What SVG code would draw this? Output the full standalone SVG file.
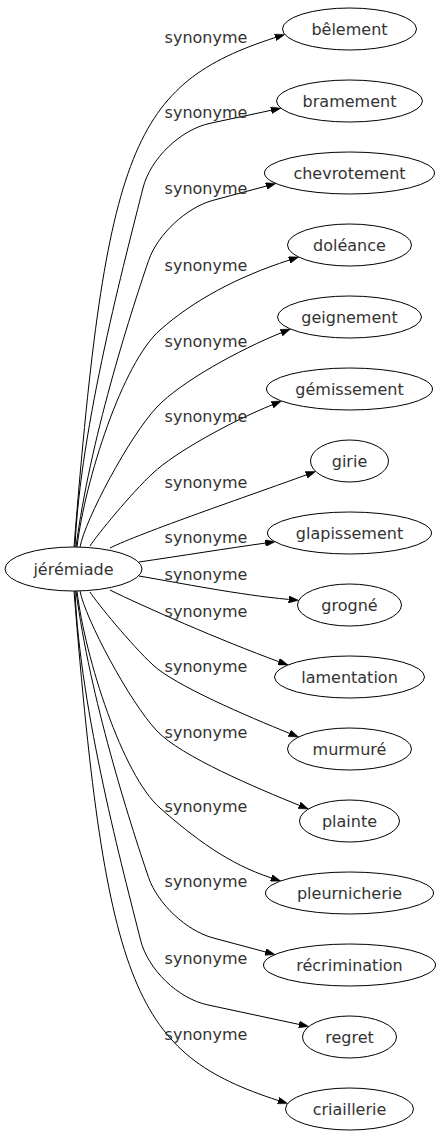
<svg xmlns="http://www.w3.org/2000/svg" width="440" height="1139" viewBox="0 0 440 1139">
<style>
  .node ellipse { fill: #ffffff; stroke: #000000; stroke-width: 1; }
  .node text { font-family: "DejaVu Sans", sans-serif; font-size: 16px; fill: #333333; text-anchor: middle; }
  .edges path { fill: none; stroke: #000000; stroke-width: 1; marker-end: url(#arrow); }
  .edges text { font-family: "DejaVu Sans", sans-serif; font-size: 16px; fill: #333333; text-anchor: middle; }
</style>
<defs>
  <marker id="arrow" viewBox="0 0 10 7" markerWidth="10" markerHeight="7" refX="0" refY="3.5" orient="auto" markerUnits="userSpaceOnUse">
    <path d="M0,0 L10,3.5 L0,7 Z" fill="#000000" stroke="#000000" stroke-width="0.5"/>
  </marker>
</defs>
<rect width="440" height="1139" fill="#ffffff"/>
<g id="connectors" class="edges">
  <path d="M74,547 C106,147 132.6,83.9 275.3,37.5"/>
  <path d="M75,547 C80,427 126,256 143,188 C150.3,158.7 180.5,129.6 210.1,123.3 L271.1,110.3"/>
  <path d="M76,547 C90,440 129.2,317.5 148.55,260.65 C157.4,234.6 186.4,207.5 212.95,200.35 L266.2,186.1"/>
  <path d="M77,547 C85,480 122.5,363 160,330 C193.75,300.3 236.9,277.1 289.2,260.1"/>
  <path d="M80,547 C85,520 129.4,436.2 157,407 C181.2,381.5 239.5,349.7 281.2,332.8"/>
  <path d="M90,546 C97,535 131.1,493.4 153,473 C174.9,452.6 230.5,421.7 272.2,404.8"/>
  <path d="M110,548 C140,533 249.9,495.4 306.3,474.9"/>
  <path d="M139,562 C180,556 230,548 265.3,543.1"/>
  <path d="M139,576 C180,583 240,595 288.7,599.4"/>
  <path d="M110,590 C140,605 222.3,641.1 278.7,661.6"/>
  <path d="M90,592 C97,603 131.1,644.6 153,665 C174.9,685.4 247.7,716.4 289.4,733.3"/>
  <path d="M80,591 C85,618 129.4,701.8 157,731 C181.2,756.5 257.5,788.4 299.2,805.3"/>
  <path d="M77,591 C85,658 122.5,775 160,808 C193.75,837.7 228.4,864 271.2,877.9"/>
  <path d="M76,591 C90,698 129.3,820.7 148.6,877.6 C157.5,903.6 186.4,930.7 213,937.9 L265.3,951.9"/>
  <path d="M75,591 C80,711 123.6,872.3 140.6,940.2 C147.9,969.5 178.1,998.6 207.7,1004.9 L299,1024.4"/>
  <path d="M74,591 C106,991 135.5,1054.1 278.2,1100.5"/>
  <text x="206" y="43">synonyme</text>
  <text x="206" y="118">synonyme</text>
  <text x="206" y="194">synonyme</text>
  <text x="206" y="271">synonyme</text>
  <text x="206" y="347">synonyme</text>
  <text x="206" y="422">synonyme</text>
  <text x="206" y="488">synonyme</text>
  <text x="206" y="543">synonyme</text>
  <text x="206" y="580">synonyme</text>
  <text x="206" y="617">synonyme</text>
  <text x="206" y="672">synonyme</text>
  <text x="206" y="738">synonyme</text>
  <text x="206" y="812">synonyme</text>
  <text x="206" y="887">synonyme</text>
  <text x="206" y="964">synonyme</text>
  <text x="206" y="1040">synonyme</text>
</g>
<g id="jeremiade" class="node"><ellipse cx="73.5" cy="569" rx="68.5" ry="22"/><text x="73.5" y="574.5">jérémiade</text></g>
<g id="belement" class="node"><ellipse cx="349.5" cy="29" rx="67" ry="21"/><text x="349.5" y="34.5">bêlement</text></g>
<g id="bramement" class="node"><ellipse cx="349.5" cy="101" rx="73" ry="21"/><text x="349.5" y="106.5">bramement</text></g>
<g id="chevrotement" class="node"><ellipse cx="349.5" cy="173" rx="85" ry="21"/><text x="349.5" y="178.5">chevrotement</text></g>
<g id="doleance" class="node"><ellipse cx="349.5" cy="245" rx="62" ry="21"/><text x="349.5" y="250.5">doléance</text></g>
<g id="geignement" class="node"><ellipse cx="349.5" cy="317" rx="72" ry="21"/><text x="349.5" y="322.5">geignement</text></g>
<g id="gemissement" class="node"><ellipse cx="349.5" cy="389" rx="83" ry="21"/><text x="349.5" y="394.5">gémissement</text></g>
<g id="girie" class="node"><ellipse cx="349.5" cy="461" rx="39" ry="21"/><text x="349.5" y="466.5">girie</text></g>
<g id="glapissement" class="node"><ellipse cx="349.5" cy="533" rx="82" ry="21"/><text x="349.5" y="538.5">glapissement</text></g>
<g id="grogne" class="node"><ellipse cx="349.5" cy="605" rx="52" ry="21"/><text x="349.5" y="610.5">grogné</text></g>
<g id="lamentation" class="node"><ellipse cx="349.5" cy="677" rx="75" ry="21"/><text x="349.5" y="682.5">lamentation</text></g>
<g id="murmure" class="node"><ellipse cx="349.5" cy="749" rx="62" ry="21"/><text x="349.5" y="754.5">murmuré</text></g>
<g id="plainte" class="node"><ellipse cx="349.5" cy="821" rx="50" ry="21"/><text x="349.5" y="826.5">plainte</text></g>
<g id="pleurnicherie" class="node"><ellipse cx="349.5" cy="893" rx="84" ry="21"/><text x="349.5" y="898.5">pleurnicherie</text></g>
<g id="recrimination" class="node"><ellipse cx="349.5" cy="965" rx="86" ry="21"/><text x="349.5" y="970.5">récrimination</text></g>
<g id="regret" class="node"><ellipse cx="349.5" cy="1037" rx="47" ry="21"/><text x="349.5" y="1042.5">regret</text></g>
<g id="criaillerie" class="node"><ellipse cx="349.5" cy="1109" rx="64" ry="21"/><text x="349.5" y="1114.5">criaillerie</text></g>
</svg>
